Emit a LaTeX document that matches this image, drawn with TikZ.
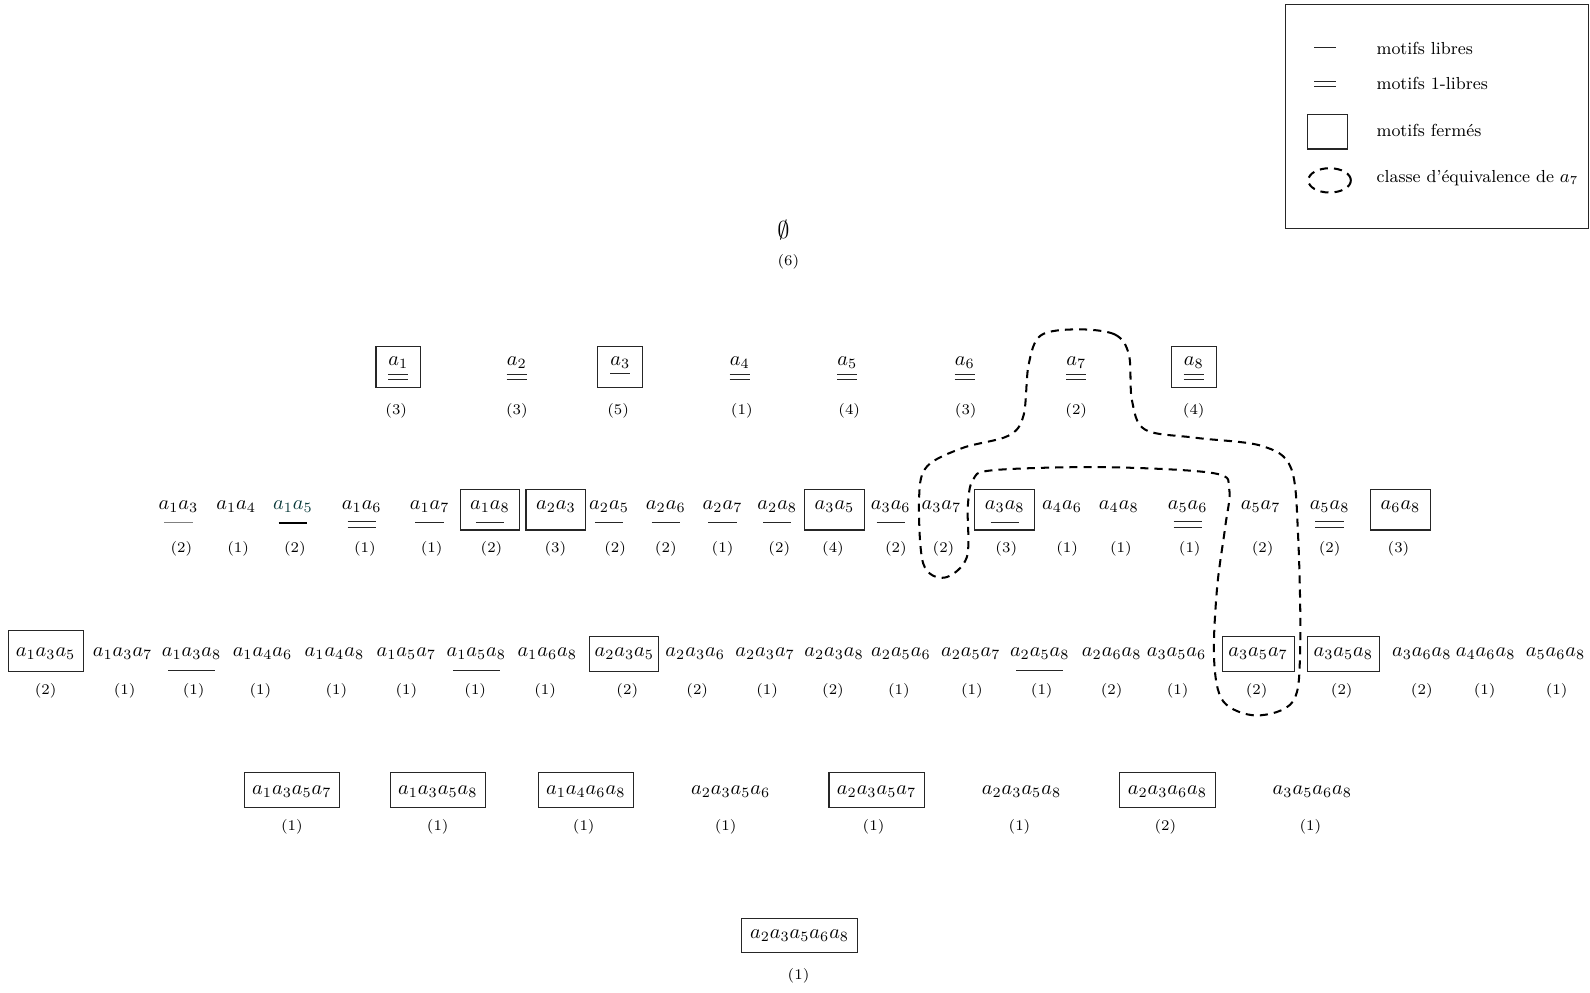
\documentclass[tikz,border=0pt]{standalone}
\usetikzlibrary{calc}
\definecolor{tealdark}{RGB}{10,58,58}
\tikzset{
  item/.style={font=\fontsize{10.2}{12}\selectfont, inner sep=0pt, anchor=base},
  closed/.style={item, draw=black!85, line width=0.55pt},
  rAbox/.style={closed, minimum width=22pt, text height=9.5pt, text depth=10.5pt},
  rBbox/.style={closed, minimum width=29.5pt, text height=10pt, text depth=10pt},
  rCbox/.style={closed, minimum width=#1, text height=10pt, text depth=7.5pt},
  rDbox/.style={closed, minimum width=47pt, text height=11pt, text depth=6.5pt},
  rEbox/.style={closed, minimum width=57.5pt, text height=10pt, text depth=7pt},
  cnt/.style={font=\fontsize{7.3}{8}\selectfont, inner sep=0pt},
  ulsty/.style={line width=0.45pt, black!85},
  eqclass/.style={line width=1pt, dash pattern=on 4pt off 3pt, line cap=butt},
  legtext/.style={font=\fontsize{8.6}{10}\selectfont, anchor=west, inner sep=0pt},
}
\newcommand\ulS[3]{\draw[ulsty] ($(#1.base)+(-#2,#3)$) -- ($(#1.base)+(#2,#3)$);}
\newcommand\ulD[4]{\ulS{#1}{#2}{#3}\ulS{#1}{#2}{#4}}
\begin{document}
\begin{tikzpicture}[x=0.5pt,y=-0.5pt]
\useasboundingbox (0,0) rectangle (1569,979);

% legend
\node (leg) [draw=black!85, line width=0.55pt, minimum width=149.5pt, minimum height=110.5pt, anchor=north west, inner sep=0pt] at (1268,4) {};
\coordinate (lA1) at (1297,47); \coordinate (lA2) at (1318,47);
\draw[ulsty] (lA1) -- (lA2);
\coordinate (lB1) at (1297,80); \coordinate (lB2) at (1318,80);
\coordinate (lC1) at (1297,85); \coordinate (lC2) at (1318,85);
\draw[ulsty] (lB1) -- (lB2);
\draw[ulsty] (lC1) -- (lC2);
\node (lsq) [draw=black!85, line width=0.55pt, minimum width=20pt, minimum height=17pt, inner sep=0pt] at (1310,130) {};
\draw[eqclass] (1312,178) ellipse [x radius=10.5pt, y radius=6pt];
\node[legtext] (lt1) at (1358,48) {motifs libres};
\node[legtext] (lt2) at (1358,82) {motifs 1-libres};
\node[legtext] (lt3) at (1358,129) {motifs ferm\'es};
\node[legtext] (lt4) at (1358,176) {classe d'\'equivalence de $a_7$};

% empty set
\node[item, anchor=center, font=\fontsize{11.5}{13}\selectfont] (e) at (773,227) {$\emptyset$};
\node[cnt] (ce) at (778,258) {(6)};

% row 1
\node[rAbox] (s1) at (393,361) {$a_1$};
\node[item]  (s2) at (510,361) {$a_2$};
\node[rAbox] (s3) at (612,361) {$a_3$};
\node[item]  (s4) at (730,361) {$a_4$};
\node[item]  (s5) at (836,361) {$a_5$};
\node[item]  (s6) at (952,361) {$a_6$};
\node[item]  (s7) at (1062,361) {$a_7$};
\node[rAbox] (s8) at (1178,361) {$a_8$};
\ulD{s1}{10}{9}{13}
\ulD{s2}{10}{9}{13}
\ulS{s3}{10}{8}
\ulD{s4}{10}{9}{13}
\ulD{s5}{10}{9}{13}
\ulD{s6}{10}{9}{13}
\ulD{s7}{10}{9}{13}
\ulD{s8}{10}{9}{13}
\foreach \n/\x/\c in {1/391/3,2/510/3,3/610/5,4/732/1,5/838/4,6/953/3,7/1062/2,8/1178/4}
  \node[cnt] (c\n) at (\x,405) {(\c)};

% row 2
\node[item] (p13) at (176,503) {$a_1a_3$};
\node[item] (p14) at (233,503) {$a_1a_4$};
\node[item, text=tealdark] (p15) at (289,503) {$a_1a_5$};
\node[item] (p16) at (357,503) {$a_1a_6$};
\node[item] (p17) at (424,503) {$a_1a_7$};
\node[rBbox] (p18) at (483.5,503) {$a_1a_8$};
\node[rBbox] (p23) at (548.5,503) {$a_2a_3$};
\node[item] (p25) at (601,503) {$a_2a_5$};
\node[item] (p26) at (657,503) {$a_2a_6$};
\node[item] (p27) at (713,503) {$a_2a_7$};
\node[item] (p28) at (767,503) {$a_2a_8$};
\node[rBbox] (p35) at (823.5,503) {$a_3a_5$};
\node[item] (p36) at (879,503) {$a_3a_6$};
\node[item] (p37) at (929,503) {$a_3a_7$};
\node[rBbox] (p38) at (991.5,503) {$a_3a_8$};
\node[item] (p46) at (1048,503) {$a_4a_6$};
\node[item] (p48) at (1104,503) {$a_4a_8$};
\node[item] (p56) at (1172,503) {$a_5a_6$};
\node[item] (p57) at (1244,503) {$a_5a_7$};
\node[item] (p58) at (1312,503) {$a_5a_8$};
\node[rBbox] (p68) at (1382,503) {$a_6a_8$};
\draw[line width=0.45pt, black!50] ($(p13.base)+(-14,13)$) -- ($(p13.base)+(14,13)$);
\draw[line width=0.6pt, black] ($(p15.base)+(-14,13)$) -- ($(p15.base)+(14,13)$);
\ulD{p16}{14}{12}{17}
\ulS{p17}{14}{13}
\ulS{p18}{14}{13}
\ulS{p25}{14}{13}
\ulS{p26}{14}{13}
\ulS{p27}{14}{13}
\ulS{p28}{14}{13}
\ulS{p36}{14}{13}
\ulS{p38}{14}{13}
\ulD{p56}{14}{12}{17}
\ulD{p58}{14}{12}{17}
\foreach \n/\x/\c in {13/179/2,14/235/1,15/291/2,16/360/1,17/426/1,18/485/2,23/548/3,25/607/2,26/657/2,27/713/1,28/769/2,35/822/4,36/884/2,37/931/2,38/993/3,46/1053/1,48/1106/1,56/1174/1,57/1246/2,58/1312/2,68/1380/3}
  \node[cnt] (c\n) at (\x,542) {(\c)};

% row 3
\node[closed, minimum width=37pt, text height=13pt, text depth=7.5pt] (t135) at (45,648) {$a_1a_3a_5$};
\node[item] (t137) at (121,648) {$a_1a_3a_7$};
\node[item] (t138) at (189,648) {$a_1a_3a_8$};
\node[item] (t146) at (259,648) {$a_1a_4a_6$};
\node[item] (t148) at (330,648) {$a_1a_4a_8$};
\node[item] (t157) at (401,648) {$a_1a_5a_7$};
\node[item] (t158) at (470,648) {$a_1a_5a_8$};
\node[item] (t168) at (540,648) {$a_1a_6a_8$};
\node[rCbox=34pt] (t235) at (616,648) {$a_2a_3a_5$};
\node[item] (t236) at (686,648) {$a_2a_3a_6$};
\node[item] (t237) at (755,648) {$a_2a_3a_7$};
\node[item] (t238) at (823,648) {$a_2a_3a_8$};
\node[item] (t256) at (889,648) {$a_2a_5a_6$};
\node[item] (t257) at (958,648) {$a_2a_5a_7$};
\node[item] (t258) at (1026,648) {$a_2a_5a_8$};
\node[item] (t268) at (1097,648) {$a_2a_6a_8$};
\node[item] (t356) at (1161,648) {$a_3a_5a_6$};
\node[rCbox=35.5pt] (t357) at (1241.5,648) {$a_3a_5a_7$};
\node[rCbox=35.5pt] (t358) at (1325.5,648) {$a_3a_5a_8$};
\node[item] (t368) at (1403,648) {$a_3a_6a_8$};
\node[item] (t468) at (1466,648) {$a_4a_6a_8$};
\node[item] (t568) at (1535,648) {$a_5a_6a_8$};
\ulS{t138}{23}{14}
\ulS{t158}{23}{14}
\ulS{t258}{23}{14}
\foreach \n/\x/\c in {135/45/2,137/123/1,138/191/1,146/257/1,148/332/1,157/401/1,158/469/1,168/538/1,235/619/2,236/688/2,237/757/1,238/822/2,256/887/1,257/959/1,258/1028/1,268/1097/2,356/1162/1,357/1240/2,358/1324/2,368/1403/2,468/1465/1,568/1536/1}
  \node[cnt] (c\n) at (\x,682) {(\c)};

% row 4
\node[rDbox] (q1357) at (288,784) {$a_1a_3a_5a_7$};
\node[rDbox] (q1358) at (432,784) {$a_1a_3a_5a_8$};
\node[rDbox] (q1468) at (578,784) {$a_1a_4a_6a_8$};
\node[item]  (q2356) at (721,784) {$a_2a_3a_5a_6$};
\node[rDbox] (q2357) at (865,784) {$a_2a_3a_5a_7$};
\node[item]  (q2358) at (1008,784) {$a_2a_3a_5a_8$};
\node[rDbox] (q2368) at (1152,784) {$a_2a_3a_6a_8$};
\node[item]  (q3568) at (1295,784) {$a_3a_5a_6a_8$};
\foreach \n/\x/\c in {1357/288/1,1358/432/1,1468/576/1,2356/716/1,2357/862/1,2358/1006/1,2368/1150/2,3568/1293/1}
  \node[cnt] (c\n) at (\x,816) {(\c)};

% row 5
\node[rEbox] (f23568) at (789,926) {$a_2a_3a_5a_6a_8$};
\node[cnt] (c23568) at (788,963) {(1)};

% equivalence class of a7
\draw[eqclass] plot[smooth cycle, tension=0.55] coordinates {
 (1063,325) (1100,330) (1114,350) (1117,395) (1130,424) (1180,432)
 (1245,440) (1274,462) (1281,530) (1283,640) (1276,692) (1240,706)
 (1207,692) (1198,650) (1201,580) (1209,520) (1213,483) (1198,467)
 (1090,461) (980,464) (960,474) (955,500) (954,550) (932,570)
 (911,556) (907,490) (915,460) (950,442) (995,430) (1010,410)
 (1015,360) (1027,331)};
\end{tikzpicture}
\end{document}
